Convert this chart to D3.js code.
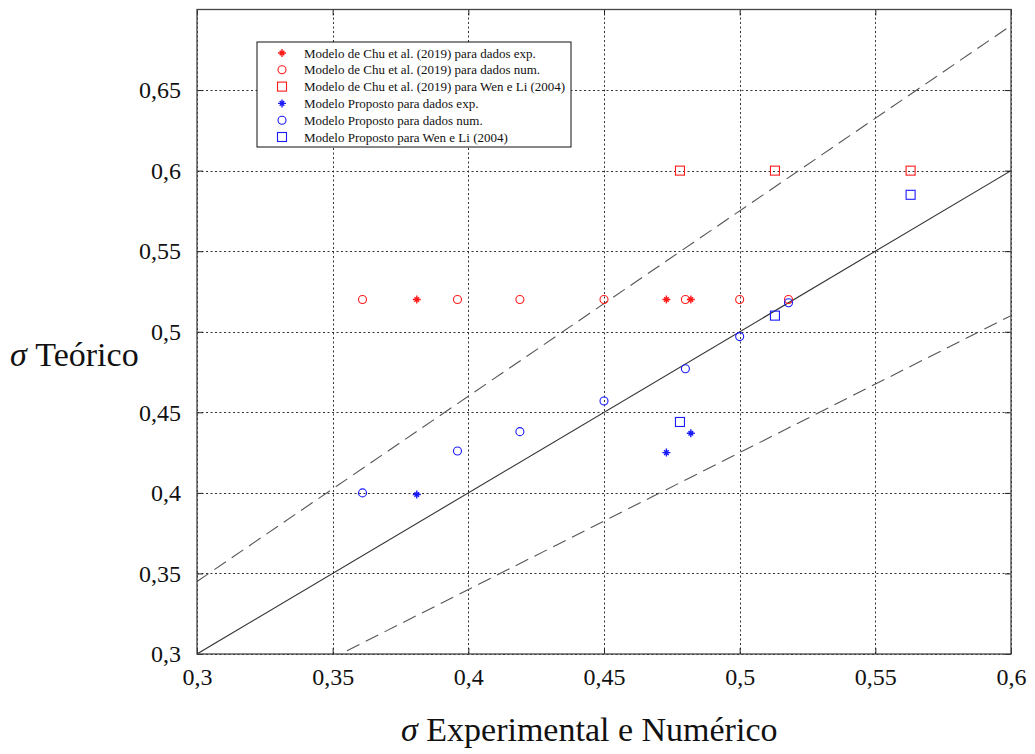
<!DOCTYPE html>
<html>
<head>
<meta charset="utf-8">
<script src="https://cdn.jsdelivr.net/npm/d3@7"></script>
<style>
  html, body { margin: 0; padding: 0; background: #fff; }
  svg { display: block; }
  text { font-family: "Liberation Serif", "Times New Roman", serif; fill: #111; }
</style>
</head>
<body>
<svg id="chart" width="1035" height="754"></svg>
<script>
// Axis ranges and tick values
const xDomain = [0.3, 0.6];
const yDomain = [0.3, 0.7];
const xTicks = [0.3, 0.35, 0.4, 0.45, 0.5, 0.55, 0.6];
const yTicks = [0.3, 0.35, 0.4, 0.45, 0.5, 0.55, 0.6, 0.65];

// Modelo de Chu et al. (2019)
const chuExpX = [0.381, 0.473, 0.482];
const chuExpY = [0.52, 0.52, 0.52];
const chuNumX = [0.361, 0.396, 0.419, 0.450, 0.480, 0.500, 0.518];
const chuNumY = [0.52, 0.52, 0.52, 0.52, 0.52, 0.52, 0.52];
const chuWenX = [0.478, 0.513, 0.563];
const chuWenY = [0.60, 0.60, 0.60];

// Modelo Proposto
const propExpX = [0.381, 0.473, 0.482];
const propExpY = [0.399, 0.425, 0.437];
const propNumX = [0.361, 0.396, 0.419, 0.450, 0.480, 0.500, 0.518];
const propNumY = [0.400, 0.426, 0.438, 0.457, 0.477, 0.497, 0.518];
const propWenX = [0.478, 0.513, 0.563];
const propWenY = [0.444, 0.510, 0.585];

// Reference lines: y = x and ±15 %
const refSlopes = [1, 1.15, 0.85];

const legendLabels = [
  "Modelo de Chu et al. (2019) para dados exp.",
  "Modelo de Chu et al. (2019) para dados num.",
  "Modelo de Chu et al. (2019) para Wen e Li (2004)",
  "Modelo Proposto para dados exp.",
  "Modelo Proposto para dados num.",
  "Modelo Proposto para Wen e Li (2004)"
];

const RED = "#ff1a1a", BLUE = "#1a1aff";

const series = [
  { xs: chuExpX,  ys: chuExpY,  color: RED,  shape: "star" },
  { xs: chuNumX,  ys: chuNumY,  color: RED,  shape: "circle" },
  { xs: chuWenX,  ys: chuWenY,  color: RED,  shape: "square" },
  { xs: propExpX, ys: propExpY, color: BLUE, shape: "star" },
  { xs: propNumX, ys: propNumY, color: BLUE, shape: "circle" },
  { xs: propWenX, ys: propWenY, color: BLUE, shape: "square" }
];

const svg = d3.select("#chart");
const margin = { left: 197, right: 24, top: 9.5, bottom: 100 };
const W = 1035, H = 754;
const x = d3.scaleLinear().domain(xDomain).range([margin.left, W - margin.right]);
const y = d3.scaleLinear().domain(yDomain).range([H - margin.bottom, margin.top]);
const fmt = d => String(+d.toFixed(2)).replace(".", ",");

// Plot clip
svg.append("clipPath").attr("id", "plotClip").append("rect")
  .attr("x", x(xDomain[0])).attr("y", y(yDomain[1]))
  .attr("width", x(xDomain[1]) - x(xDomain[0]))
  .attr("height", y(yDomain[0]) - y(yDomain[1]));

// Dotted grid
const grid = svg.append("g").attr("stroke", "#333").attr("stroke-width", 1)
  .attr("stroke-dasharray", "2,2.5");
grid.selectAll(".gx").data(xTicks).join("line")
  .attr("x1", d => Math.round(x(d)) + 0.5).attr("x2", d => Math.round(x(d)) + 0.5)
  .attr("y1", y(yDomain[0])).attr("y2", y(yDomain[1]));
grid.selectAll(".gy").data(yTicks).join("line")
  .attr("y1", d => Math.round(y(d)) + 0.5).attr("y2", d => Math.round(y(d)) + 0.5)
  .attr("x1", x(xDomain[0])).attr("x2", x(xDomain[1]));

// Reference lines
const lines = svg.append("g").attr("clip-path", "url(#plotClip)").attr("fill", "none");
refSlopes.forEach((k, i) => {
  lines.append("line")
    .attr("x1", x(xDomain[0])).attr("y1", y(k * xDomain[0]))
    .attr("x2", x(xDomain[1])).attr("y2", y(k * xDomain[1]))
    .attr("stroke", i === 0 ? "#333" : "#555")
    .attr("stroke-width", 1.1)
    .attr("stroke-dasharray", i === 0 ? null : "14,7");
});

// Axes (box with inward ticks)
const tickLen = -6;
const axisStyle = g => {
  g.attr("font-family", null).attr("font-size", null);
  g.select(".domain").remove();
  g.selectAll(".tick line").attr("stroke", "#222");
  g.selectAll(".tick text").style("font-size", "24px")
    .style("font-family", "'Liberation Serif', 'Times New Roman', serif").attr("fill", "#111");
};
svg.append("g").attr("transform", `translate(0,${y(yDomain[0])})`)
  .call(d3.axisBottom(x).tickValues(xTicks).tickFormat(fmt).tickSize(tickLen).tickPadding(14))
  .call(axisStyle);
svg.append("g").attr("transform", `translate(${x(xDomain[0])},0)`)
  .call(d3.axisLeft(y).tickValues(yTicks).tickFormat(fmt).tickSize(tickLen).tickPadding(16))
  .call(axisStyle);
svg.append("g").attr("transform", `translate(0,${y(yDomain[1])})`)
  .call(d3.axisTop(x).tickValues(xTicks).tickFormat("").tickSize(tickLen))
  .call(axisStyle);
svg.append("g").attr("transform", `translate(${x(xDomain[1])},0)`)
  .call(d3.axisRight(y).tickValues(yTicks).tickFormat("").tickSize(tickLen))
  .call(axisStyle);

svg.append("rect")
  .attr("x", x(xDomain[0])).attr("y", y(yDomain[1]))
  .attr("width", x(xDomain[1]) - x(xDomain[0]))
  .attr("height", y(yDomain[0]) - y(yDomain[1]))
  .attr("fill", "none").attr("stroke", "#444").attr("stroke-width", 1.3);

// Marker drawing
function drawMarker(g, shape, color) {
  if (shape === "circle") {
    g.append("circle").attr("r", 4).attr("fill", "none")
      .attr("stroke", color).attr("stroke-width", 1.1);
  } else if (shape === "square") {
    g.append("rect").attr("x", -4.5).attr("y", -4.5).attr("width", 9).attr("height", 9)
      .attr("fill", "none").attr("stroke", color).attr("stroke-width", 1.1);
  } else {
    const r = 4, d = 2.3;
    g.append("path")
      .attr("d", `M${-r},0H${r}M0,${-r}V${r}M${-d},${-d}L${d},${d}M${-d},${d}L${d},${-d}`)
      .attr("stroke", color).attr("stroke-width", 1.4).attr("fill", "none");
  }
}

// Data points
const pts = svg.append("g");
series.forEach(s => {
  s.xs.forEach((xv, i) => {
    const g = pts.append("g").attr("transform", `translate(${x(xv)},${y(s.ys[i])})`);
    drawMarker(g, s.shape, s.color);
  });
});

// Legend
const leg = svg.append("g").attr("transform", "translate(257,42)");
leg.append("rect").attr("width", 314).attr("height", 105)
  .attr("fill", "#fff").attr("stroke", "#111").attr("stroke-width", 1);
legendLabels.forEach((lab, i) => {
  const row = leg.append("g").attr("transform", `translate(0,${11 + i * 16.8})`);
  const m = row.append("g").attr("transform", "translate(25,0)");
  drawMarker(m, series[i].shape, series[i].color);
  row.append("text").attr("x", 47).attr("y", 0).attr("dy", "0.35em")
    .style("font-size", "13px").attr("fill", "#222").text(lab);
});

// Axis titles
const yTitle = svg.append("text").attr("x", 10).attr("y", 366).style("font-size", "34px");
yTitle.append("tspan").style("font-style", "italic").text("σ");
yTitle.append("tspan").text(" Teórico");

const xTitle = svg.append("text").attr("x", 401).attr("y", 741).style("font-size", "34px");
xTitle.append("tspan").style("font-style", "italic").text("σ");
xTitle.append("tspan").text(" Experimental e Numérico");
</script>
</body>
</html>
